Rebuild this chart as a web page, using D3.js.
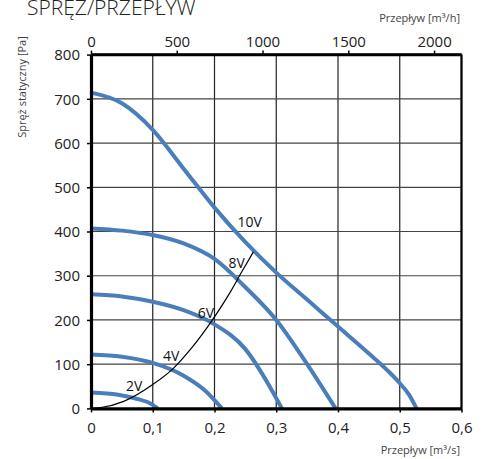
<!DOCTYPE html>
<html><head><meta charset="utf-8">
<script src="https://cdn.jsdelivr.net/npm/d3@7"></script>
<style>
html,body{margin:0;padding:0;background:#fff;}
svg{display:block;font-family:"Open Sans",sans-serif;}
</style></head>
<body>
<svg id="c" width="484" height="459"></svg>
<script>
// Data (flow in m3/s, pressure in Pa)
const curve10V = [[0,714],[0.05,690],[0.1,630],[0.15,542],[0.2,454],[0.25,376],[0.3,307],[0.35,246],[0.4,185],[0.45,124],[0.48,86],[0.5,57],[0.515,31],[0.527,0]];
const curve8V  = [[0,407],[0.05,402],[0.1,392],[0.15,373],[0.2,338],[0.25,274],[0.3,200],[0.35,100],[0.396,0]];
const curve6V  = [[0,258],[0.05,253],[0.1,241],[0.15,222],[0.2,190],[0.25,134],[0.29,48],[0.309,0]];
const curve4V  = [[0,122],[0.05,117],[0.1,103],[0.15,74],[0.185,40],[0.212,0]];
const curve2V  = [[0,36],[0.044,31],[0.071,23],[0.1,8],[0.108,0]];
const systemCurve = [[0,0],[0.016,2],[0.053,16],[0.1,54],[0.133,90],[0.162,135],[0.2,207],[0.226,264],[0.243,306],[0.263,354]];
const curveLabels = ["10V","8V","6V","4V","2V"];
const labelPos = [[0.257,422],[0.236,329],[0.186,216],[0.130,119],[0.070,51]];
const xTicks = [0,0.1,0.2,0.3,0.4,0.5,0.6];
const yTicks = [0,100,200,300,400,500,600,700,800];
const topTicks = [0,500,1000,1500,2000];
const title = "SPRĘŻ/PRZEPŁYW";
const yTitle = "Spręż statyczny [Pa]";
const xTitleBottom = "Przepływ [m³/s]";
const xTitleTop = "Przepływ [m³/h]";

const svg = d3.select("#c");
const x = d3.scaleLinear().domain([0,0.6]).range([91,461.5]);
const xTop = d3.scaleLinear().domain([0,0.6*3600]).range([91,461.5]);
const y = d3.scaleLinear().domain([0,800]).range([408.4,54.6]);
const fmt = d => d===0 ? "0" : d3.format(".1f")(d).replace(".",",");

// grid
const g = svg.append("g");
g.selectAll("line.gx").data(xTicks.slice(1)).join("line")
  .attr("x1",d=>x(d)).attr("x2",d=>x(d)).attr("y1",y(0)).attr("y2",y(800))
  .attr("stroke","#222").attr("stroke-width",1.2);
g.selectAll("line.gy").data(yTicks.slice(1)).join("line")
  .attr("x1",x(0)).attr("x2",x(0.6)).attr("y1",d=>y(d)).attr("y2",d=>y(d))
  .attr("stroke","#444").attr("stroke-width",1.2);
// frame top/right
svg.append("line").attr("x1",x(0)).attr("x2",x(0.6)).attr("y1",y(800)).attr("y2",y(800)).attr("stroke","#000").attr("stroke-width",2.5);
svg.append("line").attr("x1",x(0.6)).attr("x2",x(0.6)).attr("y1",y(0)).attr("y2",y(800)).attr("stroke","#000").attr("stroke-width",2.2);

// curves
const line = d3.line().x(d=>x(d[0])).y(d=>y(d[1])).curve(d3.curveMonotoneX);
const fans = [curve10V,curve8V,curve6V,curve4V,curve2V];
svg.selectAll("path.fan").data(fans).join("path")
  .attr("d",line).attr("fill","none").attr("stroke","#4a7ebb").attr("stroke-width",4);
svg.append("path").attr("d",line(systemCurve)).attr("fill","none").attr("stroke","#000").attr("stroke-width",1.2);

svg.selectAll("text.lab").data(curveLabels).join("text")
  .attr("x",(d,i)=>x(labelPos[i][0])).attr("y",(d,i)=>y(labelPos[i][1]))
  .attr("text-anchor","middle").attr("dominant-baseline","central")
  .attr("font-size",14).attr("fill","#111").text(d=>d);

// axes
const ax = svg.append("g").attr("transform",`translate(0,${y(0)})`)
  .call(d3.axisBottom(x).tickValues(xTicks).tickFormat(fmt).tickSize(4).tickSizeOuter(0));
const ay = svg.append("g").attr("transform",`translate(${x(0)},0)`)
  .call(d3.axisLeft(y).tickValues(yTicks).tickFormat(d3.format("d")).tickSize(4).tickSizeOuter(0));
const at = svg.append("g").attr("transform",`translate(0,${y(800)})`)
  .call(d3.axisTop(xTop).tickValues(topTicks).tickFormat(d3.format("d")).tickSize(4).tickSizeOuter(0));
[ax,ay,at].forEach(a=>{
  a.select(".domain").attr("stroke","#000").attr("stroke-width",3.2);
  a.selectAll(".tick line").attr("stroke","#000").attr("stroke-width",1.5);
  a.selectAll(".tick text").attr("font-family","Open Sans, sans-serif").attr("font-size",15).attr("fill","#222");
});
at.select(".domain").attr("stroke-width",2.5);
ax.selectAll(".tick text").attr("dy","1.15em");
ay.selectAll(".tick text").attr("x",-11).attr("dy","0.35em");
at.selectAll(".tick text").attr("y",-8);

// titles
svg.append("text").attr("x",27).attr("y",15).attr("font-size",21).attr("fill","#222").attr("font-weight",300).text(title);
svg.append("text").attr("x",460).attr("y",22).attr("text-anchor","end").attr("font-size",11).attr("fill","#444").text(xTitleTop);
svg.append("text").attr("x",460).attr("y",454).attr("text-anchor","end").attr("font-size",11).attr("fill","#444").text(xTitleBottom);
svg.append("text").attr("transform","translate(26,87) rotate(-90)").attr("text-anchor","middle").attr("font-size",11).attr("fill","#444").text(yTitle);
</script>
</body></html>
